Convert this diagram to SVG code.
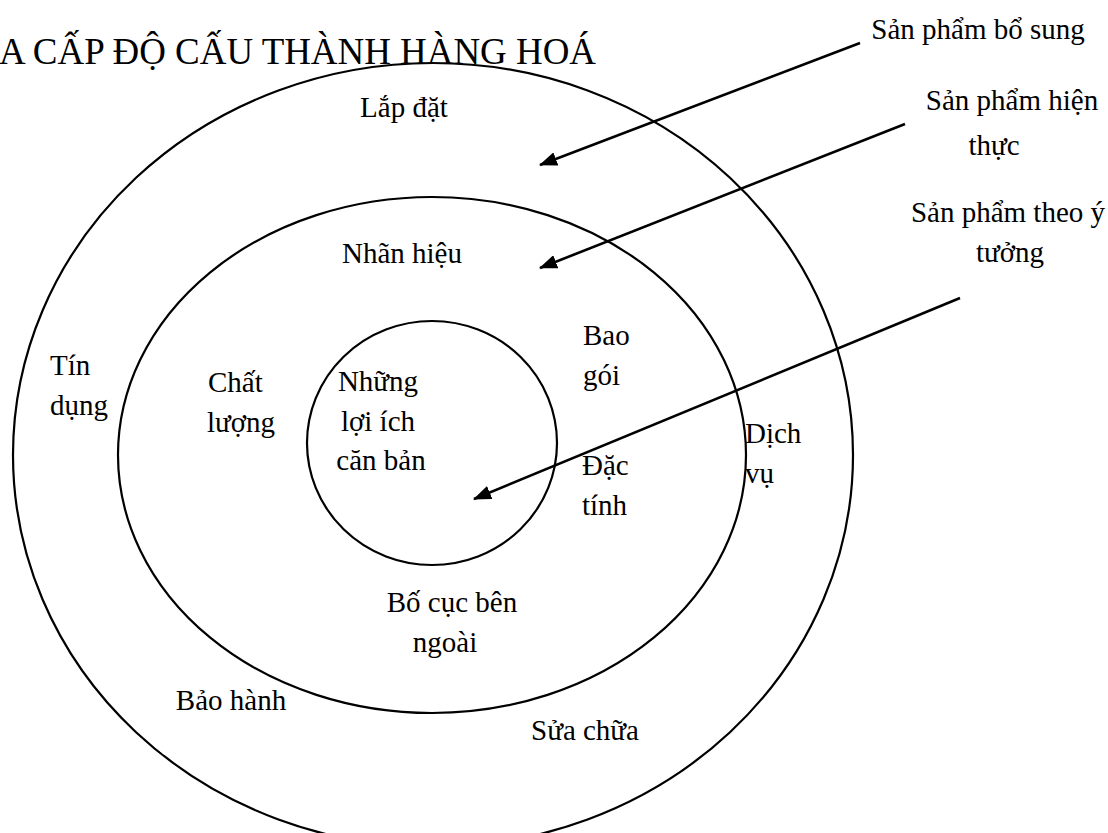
<svg xmlns="http://www.w3.org/2000/svg" width="1108" height="833" viewBox="0 0 1108 833">
  <style>
    .ring { fill: none; stroke: #000; stroke-width: 2.2; }
    .lbl { font-family: "Liberation Serif", "Times New Roman", serif; font-size: 29px; fill: #000; }
    .mid { text-anchor: middle; }
    .title { font-family: "Liberation Serif", "Times New Roman", serif; font-size: 37px; fill: #000; }
    .conn { stroke: #000; stroke-width: 2.6; fill: none; }
  </style>
  <defs>
    <marker id="arr" markerUnits="userSpaceOnUse" markerWidth="18" markerHeight="14" viewBox="0 0 18 14" refX="17" refY="7" orient="auto">
      <path d="M0,0 L18,7 L0,14 Z" fill="#000"/>
    </marker>
  </defs>
  <rect width="1108" height="833" fill="#fff"/>

  <text class="title" x="-1" y="64" textLength="597" lengthAdjust="spacingAndGlyphs">A CẤP ĐỘ CẤU THÀNH HÀNG HOÁ</text>

  <g id="outer">
    <ellipse class="ring" cx="433" cy="455" rx="420" ry="392"/>
    <line x1="150" y1="739" x2="166" y2="753" stroke="#fff" stroke-width="5"/>
    <line x1="663" y1="776" x2="673" y2="767" stroke="#fff" stroke-width="5"/>
    <text class="lbl mid" x="404" y="117">Lắp đặt</text>
    <text class="lbl" x="50" y="375">Tín</text>
    <text class="lbl" x="50" y="415">dụng</text>
    <text class="lbl" x="745" y="443">Dịch</text>
    <text class="lbl" x="745" y="483">vụ</text>
    <text class="lbl mid" x="231" y="710">Bảo hành</text>
    <text class="lbl mid" x="585" y="740">Sửa chữa</text>
  </g>

  <g id="middle">
    <ellipse class="ring" cx="432" cy="455" rx="314" ry="258"/>
    <text class="lbl mid" x="402" y="263">Nhãn hiệu</text>
    <text class="lbl" x="583" y="345">Bao</text>
    <text class="lbl" x="583" y="385">gói</text>
    <text class="lbl" x="208" y="392">Chất</text>
    <text class="lbl" x="207" y="432">lượng</text>
    <text class="lbl" x="582" y="475">Đặc</text>
    <text class="lbl" x="582" y="515">tính</text>
    <text class="lbl mid" x="452" y="612">Bố cục bên</text>
    <text class="lbl mid" x="445" y="652">ngoài</text>
  </g>

  <g id="inner">
    <ellipse class="ring" cx="432" cy="443" rx="125" ry="122"/>
    <text class="lbl mid" x="378" y="391">Những</text>
    <text class="lbl mid" x="378" y="431">lợi ích</text>
    <text class="lbl mid" x="381" y="470">căn bản</text>
  </g>

  <g id="callouts">
    <text class="lbl mid" x="978" y="39">Sản phẩm bổ sung</text>
    <text class="lbl mid" x="1012" y="110">Sản phẩm hiện</text>
    <text class="lbl mid" x="994" y="155">thực</text>
    <text class="lbl mid" x="1008" y="222">Sản phẩm theo ý</text>
    <text class="lbl mid" x="1010" y="262">tưởng</text>
  </g>

  <g id="connectors">
    <line class="conn" x1="860" y1="43" x2="540" y2="165" marker-end="url(#arr)"/>
    <line class="conn" x1="905" y1="124" x2="540" y2="268" marker-end="url(#arr)"/>
    <line class="conn" x1="960" y1="298" x2="474" y2="499" marker-end="url(#arr)"/>
  </g>
</svg>
